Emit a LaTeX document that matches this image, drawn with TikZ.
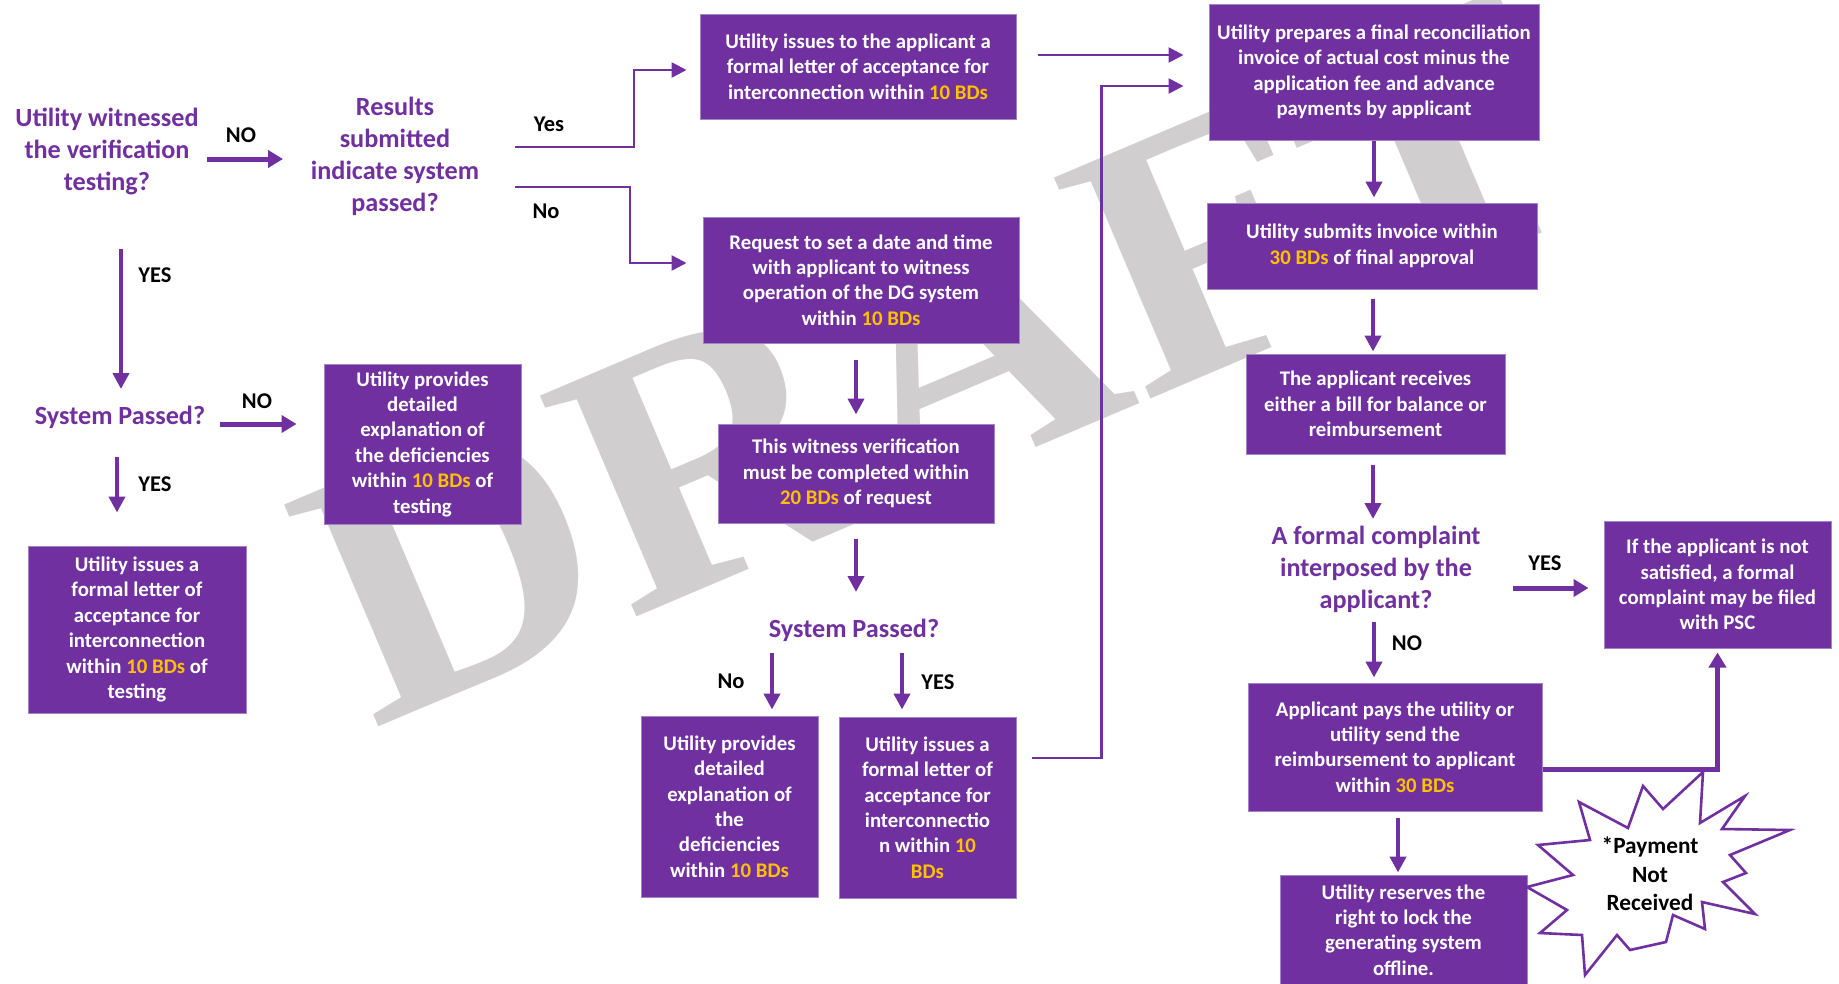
\documentclass[tikz,border=0pt]{standalone}
\usepackage{graphicx}
\usepackage{fontspec}
\setmainfont{Carlito}
\newfontfamily\wmfont{Liberation Serif}
\usetikzlibrary{arrows.meta,calc}
\definecolor{pp}{HTML}{7030A0}
\definecolor{ppedge}{HTML}{A283C8}
\definecolor{gold}{HTML}{FFC000}
\definecolor{wm}{HTML}{D0CECE}
\newcommand{\gd}[1]{\textcolor{gold}{#1}}
\newcommand{\boxfont}{\fontsize{20.8}{25.4}\selectfont\bfseries}
\newcommand{\qfont}{\fontsize{26.2}{32}\selectfont\bfseries}
\newcommand{\lblfont}{\fontsize{22.5}{27}\selectfont\bfseries}
\newcommand{\burstfont}{\fontsize{23.3}{28.4}\selectfont\bfseries}
\tikzset{
  fbox/.style={fill=pp, draw=ppedge, line width=1pt, text=white, align=center, inner sep=0pt, font=\boxfont},
  qtext/.style={text=pp, align=center, inner sep=0pt, font=\qfont},
  lbl/.style={text=black, inner sep=0pt, font=\lblfont},
  arrthick/.style={draw=pp, line width=5pt, -{Triangle[length=15pt,width=17pt]}},
  arrmed/.style={draw=pp, line width=4pt, -{Triangle[length=16pt,width=16pt]}},
  arrthin/.style={draw=pp, line width=2.6pt, -{Triangle[length=15pt,width=15pt]}},
}
\begin{document}
\begin{tikzpicture}[x=1pt,y=-1pt]
\clip (0,0) rectangle (1839,983);
\fill[white] (0,0) rectangle (1839,983);
% watermark
\node[rotate=23, anchor=base west, inner sep=0pt, text=wm, font=\wmfont\bfseries\fontsize{368}{368}\selectfont] (wmark) at (372,730) {\scalebox{1.05}[1]{DRAFT}};

% question texts
\node[qtext] (q1) at (107,152) {Utility witnessed\\the verification\\testing?};
\node[qtext] (q2) at (395,156) {Results\\submitted\\indicate system\\passed?};
\node[qtext] (sp1) at (120,417) {System Passed?};
\node[qtext] (q3) at (854,630) {System Passed?};
\node[qtext] (q4) at (1376,569) {A formal complaint\\interposed by the\\applicant?};

% boxes
\node[fbox, minimum width=316, minimum height=105] (box1) at (858,66.5) {Utility issues to the applicant a\\formal letter of acceptance for\\interconnection within \gd{10 BDs}};
\node[fbox, minimum width=316, minimum height=126] (box2) at (861,280) {Request to set a date and time\\with applicant to witness\\operation of the DG system\\within \gd{10 BDs}};
\node[fbox, minimum width=276, minimum height=99] (box3) at (856,473.5) {This witness verification\\must be completed within\\\gd{20 BDs} of request};
\node[fbox, minimum width=177, minimum height=181] (box4) at (729.5,806.5) {Utility provides\\detailed\\explanation of\\the\\deficiencies\\within \gd{10 BDs}};
\node[fbox, minimum width=177, minimum height=181] (box5) at (927.5,807.5) {Utility issues a\\formal letter of\\acceptance for\\interconnectio\\n within \gd{10}\\\gd{BDs}};
\node[fbox, minimum width=330, minimum height=136] (box6) at (1374,72) {Utility prepares a final reconciliation\\invoice of actual cost minus the\\application fee and advance\\payments by applicant};
\node[fbox, minimum width=330, minimum height=86] (box7) at (1372,246) {Utility submits invoice within\\\gd{30 BDs} of final approval};
\node[fbox, minimum width=259, minimum height=100] (box8) at (1375.5,404) {The applicant receives\\either a bill for balance or\\reimbursement};
\node[fbox, minimum width=227, minimum height=127] (box9) at (1717.5,584.5) {If the applicant is not\\satisfied, a formal\\complaint may be filed\\with PSC};
\node[fbox, minimum width=294, minimum height=128] (box10) at (1395,747) {Applicant pays the utility or\\utility send the\\reimbursement to applicant\\within \gd{30 BDs}};
\node[fbox, minimum width=247, minimum height=110] (box11) at (1403.5,930) {Utility reserves the\\right to lock the\\generating system\\offline.};
\node[fbox, minimum width=197, minimum height=160] (box12) at (422.5,444) {Utility provides\\detailed\\explanation of\\the deficiencies\\within \gd{10 BDs} of\\testing};
\node[fbox, minimum width=218, minimum height=167] (box13) at (137,629.5) {Utility issues a\\formal letter of\\acceptance for\\interconnection\\within \gd{10 BDs} of\\testing};

% labels
\node[lbl] (lno1) at (241,135) {NO};
\node[lbl] (lyes1) at (155,275) {YES};
\node[lbl] (lno2) at (257,401) {NO};
\node[lbl] (lyes2) at (155,484) {YES};
\node[lbl] (lyes3) at (549,124) {Yes};
\node[lbl] (lno3) at (546,211) {No};
\node[lbl] (lno4) at (731,681) {No};
\node[lbl] (lyes4) at (938,682) {YES};
\node[lbl] (lyes5) at (1545,563) {YES};
\node[lbl] (lno5) at (1407,643) {NO};

% connectors
\draw[arrthick] ($(q1.center)+(100,7)$) -- ($(q2.center)+(-112,3)$);
\draw[arrmed] ($(q1.center)+(14,97)$) -- ($(sp1.center)+(1,-28)$);
\draw[arrthick] ($(sp1.center)+(100,7)$) -- ($(box12.west)+(-27,-20)$);
\draw[arrmed] ($(sp1.center)+(-3,40)$) -- ($(box13.north)+(-20,-33)$);
\draw[arrthin] ($(q2.center)+(120,-9)$) -- ++(119,0) |- ($(box1.west)+(-13,3.5)$);
\draw[arrthin] ($(q2.center)+(120,31)$) -- ++(115,0) |- ($(box2.west)+(-16,-17)$);
\draw[arrmed] ($(box2.south)+(-5,16)$) -- ($(box3.north)+(0,-9)$);
\draw[arrmed] ($(box3.south)+(0,15)$) -- ($(q3.center)+(2,-38)$);
\draw[arrmed] ($(q3.center)+(-82,23)$) -- ($(box4.north)+(42.5,-6)$);
\draw[arrmed] ($(q3.center)+(48,23)$) -- ($(box5.north)+(-25.5,-7)$);
\draw[arrthin] ($(box5.east)+(15,-49.5)$) -- ++(70,0) |- ($(box6.west)+(-25,14)$);
\draw[arrthin] ($(box1.east)+(21,-11.5)$) -- ($(box6.west)+(-25,-17)$);
\draw[arrmed] (box6.south) -- ($(box7.north)+(2,-5)$);
\draw[arrmed] ($(box7.south)+(1,9)$) -- ($(box8.north)+(-2.5,-2)$);
\draw[arrmed] ($(box8.south)+(-2.5,10)$) -- ($(q4.center)+(-3,-50)$);
\draw[arrthick] ($(q4.center)+(137,19)$) -- ($(box9.west)+(-15,3.5)$);
\draw[arrmed] ($(q4.center)+(-2,53)$) -- ($(box10.north)+(-21,-5)$);
\draw[arrthick] ($(box10.east)+(0,22)$) -| ($(box9.south)+(0,4)$);
\draw[arrmed] ($(box10.south)+(3,6)$) -- ($(box11.north)+(-5.5,-2)$);

% starburst
\draw[draw=pp, fill=white, line width=2.6pt, line join=miter]
  (1703,772) -- (1700,823) -- (1745,796) -- (1722,829) -- (1790,830) -- (1730,855)
  -- (1746,873) -- (1723,882) -- (1755,914) -- (1702,902) -- (1705,929) -- (1673,915)
  -- (1666,942) -- (1630,950) -- (1617,935) -- (1585,975) -- (1582,935) -- (1540,933)
  -- (1567,910) -- (1527,887) -- (1573,875) -- (1538,845) -- (1590,840) -- (1579,802)
  -- (1628,828) -- (1643,786) -- (1663,809) -- cycle;
\node[align=center, inner sep=0pt, font=\burstfont, text=black] (burst) at (1650,874) {*Payment\\Not\\Received};
\end{tikzpicture}
\end{document}
